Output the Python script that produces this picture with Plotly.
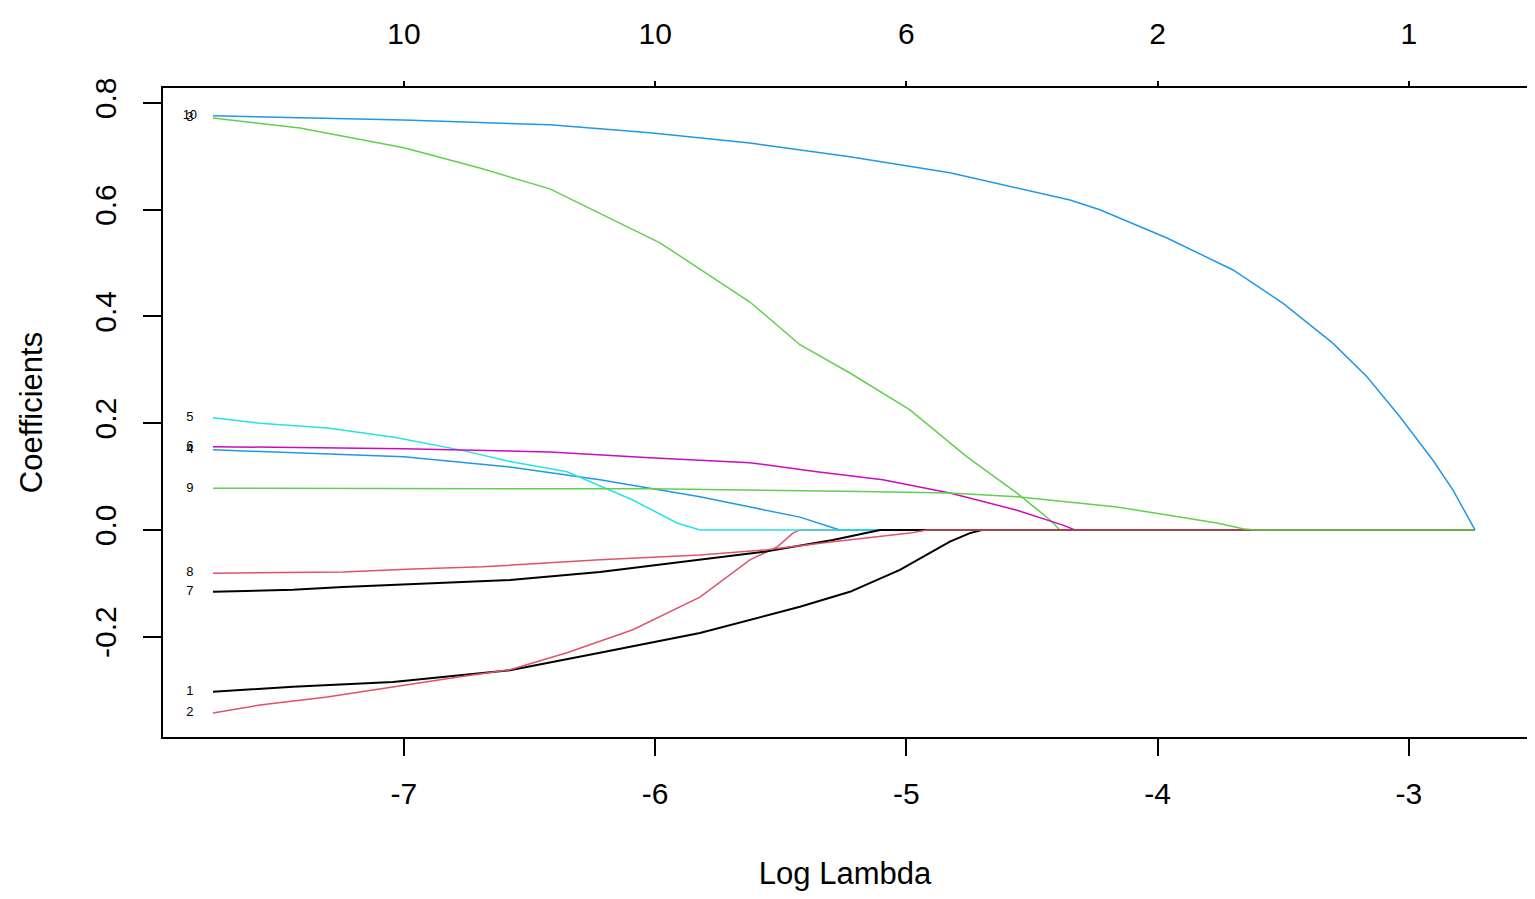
import plotly.graph_objects as go

# lasso coefficient paths (glmnet style)
v1_x = [-7.760, -7.442, -7.044, -6.777, -6.578, -6.220, -5.822, -5.424, -5.225, -5.026, -4.827, -4.747, -4.700, -2.737]
v1_y = [-0.303, -0.294, -0.285, -0.272, -0.263, -0.230, -0.193, -0.144, -0.116, -0.075, -0.022, -0.006, 0.0, 0.0]

v2_x = [-7.760, -7.573, -7.306, -7.044, -6.777, -6.578, -6.351, -6.089, -5.822, -5.623, -5.515, -5.452, -5.424, -2.737]
v2_y = [-0.343, -0.328, -0.313, -0.294, -0.275, -0.262, -0.230, -0.187, -0.126, -0.056, -0.032, -0.006, 0.0, 0.0]

v3_x = [-7.760, -7.414, -7.000, -6.698, -6.419, -5.981, -5.623, -5.424, -5.225, -4.986, -4.759, -4.560, -4.429, -4.389, -2.737]
v3_y = [0.772, 0.753, 0.716, 0.678, 0.639, 0.538, 0.427, 0.347, 0.294, 0.225, 0.137, 0.069, 0.019, 0.0, 0.0]

v4_x = [-7.760, -7.000, -6.578, -6.220, -5.822, -5.424, -5.293, -5.265, -2.737]
v4_y = [0.150, 0.137, 0.118, 0.094, 0.062, 0.024, 0.004, 0.0, 0.0]

v5_x = [-7.760, -7.573, -7.306, -7.044, -6.777, -6.578, -6.351, -6.089, -5.913, -5.822, -2.737]
v5_y = [0.210, 0.200, 0.191, 0.174, 0.150, 0.128, 0.109, 0.056, 0.013, 0.0, 0.0]

v6_x = [-7.760, -7.000, -6.419, -6.021, -5.623, -5.356, -5.094, -4.827, -4.560, -4.377, -4.329, -2.737]
v6_y = [0.156, 0.152, 0.146, 0.135, 0.126, 0.109, 0.094, 0.069, 0.037, 0.009, 0.0, 0.0]

v7_x = [-7.760, -7.442, -7.243, -6.869, -6.578, -6.220, -5.822, -5.555, -5.293, -5.105, -2.737]
v7_y = [-0.116, -0.112, -0.107, -0.100, -0.094, -0.079, -0.056, -0.040, -0.019, 0.0, 0.0]

v8_x = [-7.760, -7.243, -6.964, -6.686, -6.220, -5.822, -5.555, -5.293, -4.986, -4.918, -2.737]
v8_y = [-0.081, -0.079, -0.073, -0.069, -0.056, -0.047, -0.037, -0.022, -0.006, 0.0, 0.0]

v9_x = [-7.760, -6.021, -5.185, -4.827, -4.560, -4.162, -3.764, -3.661, -3.613, -2.737]
v9_y = [0.078, 0.077, 0.072, 0.069, 0.062, 0.043, 0.013, 0.002, 0.0, 0.0]

v10_x = [-7.760, -7.000, -6.419, -6.021, -5.623, -5.225, -4.827, -4.560, -4.349, -4.230, -3.963,
         -3.700, -3.502, -3.303, -3.167, -3.036, -2.905, -2.825, -2.737]
v10_y = [0.776, 0.768, 0.759, 0.744, 0.725, 0.699, 0.669, 0.641, 0.618, 0.600, 0.547,
         0.487, 0.425, 0.350, 0.287, 0.212, 0.131, 0.075, 0.0]

paths_x = [v1_x, v2_x, v3_x, v4_x, v5_x, v6_x, v7_x, v8_x, v9_x, v10_x]
paths_y = [v1_y, v2_y, v3_y, v4_y, v5_y, v6_y, v7_y, v8_y, v9_y, v10_y]
var_labels = ["1", "2", "3", "4", "5", "6", "7", "8", "9", "10"]

bottom_ticks = [-7, -6, -5, -4, -3]
bottom_ticktext = ["-7", "-6", "-5", "-4", "-3"]
top_ticktext = ["10", "10", "6", "2", "1"]   # number of nonzero coefficients
y_ticks = [-0.2, 0.0, 0.2, 0.4, 0.6, 0.8]
y_ticktext = ["-0.2", "0.0", "0.2", "0.4", "0.6", "0.8"]

# R palette, matplot cycles through col = 1:6
colors = ["#000000", "#DF536B", "#61D04F", "#2297E6", "#28E2E5", "#CD0BBC"]

FONT = "Arial, Liberation Sans, sans-serif"
x_range = [-7.959, -2.530]
label_x = -7.852

fig = go.Figure()

for i in range(len(paths_x)):
    col = colors[i % 6]
    fig.add_trace(go.Scatter(
        x=paths_x[i], y=paths_y[i], mode="lines",
        line=dict(color=col, width=2 if col == "#000000" else 1.5),
        showlegend=False, hoverinfo="skip"
    ))

# variable labels at the left end of each path
fig.add_trace(go.Scatter(
    x=[label_x] * len(var_labels), y=[p[0] for p in paths_y],
    mode="text", text=var_labels,
    textfont=dict(family=FONT, size=13, color="black"),
    xaxis="x2", showlegend=False, hoverinfo="skip"
))

# page body adds 8px, margins are set to compensate
fig.update_layout(
    width=1535, height=899,
    paper_bgcolor="white", plot_bgcolor="white",
    font=dict(family=FONT, size=30, color="black"),
    margin=dict(l=155, r=16, t=80, b=170),
    xaxis=dict(
        range=x_range, tickvals=bottom_ticks, ticktext=bottom_ticktext,
        ticks="outside", ticklen=17, tickwidth=1.5, tickcolor="black",
        showline=True, linecolor="black", linewidth=2, mirror=True,
        showgrid=False, zeroline=False, automargin=False,
        ticklabelstandoff=12,
        title=dict(text="Log Lambda", standoff=53, font=dict(size=31))
    ),
    xaxis2=dict(
        range=x_range, overlaying="x", side="top", tickvals=bottom_ticks,
        ticktext=top_ticktext, ticks="outside", ticklen=6, tickwidth=1.5,
        tickcolor="black", showline=False, showgrid=False, zeroline=False,
        automargin=False, ticklabelstandoff=25
    ),
    yaxis=dict(
        range=[-0.388, 0.828], tickvals=y_ticks, ticktext=y_ticktext,
        tickangle=-90, ticks="outside", ticklen=18, tickwidth=1.5,
        tickcolor="black", showline=True, linecolor="black", linewidth=2,
        mirror=True, showgrid=False, zeroline=False, automargin=False,
        ticklabelstandoff=15,
        title=dict(text="Coefficients", standoff=37, font=dict(size=31))
    ),
)

fig.write_html("out.html")
